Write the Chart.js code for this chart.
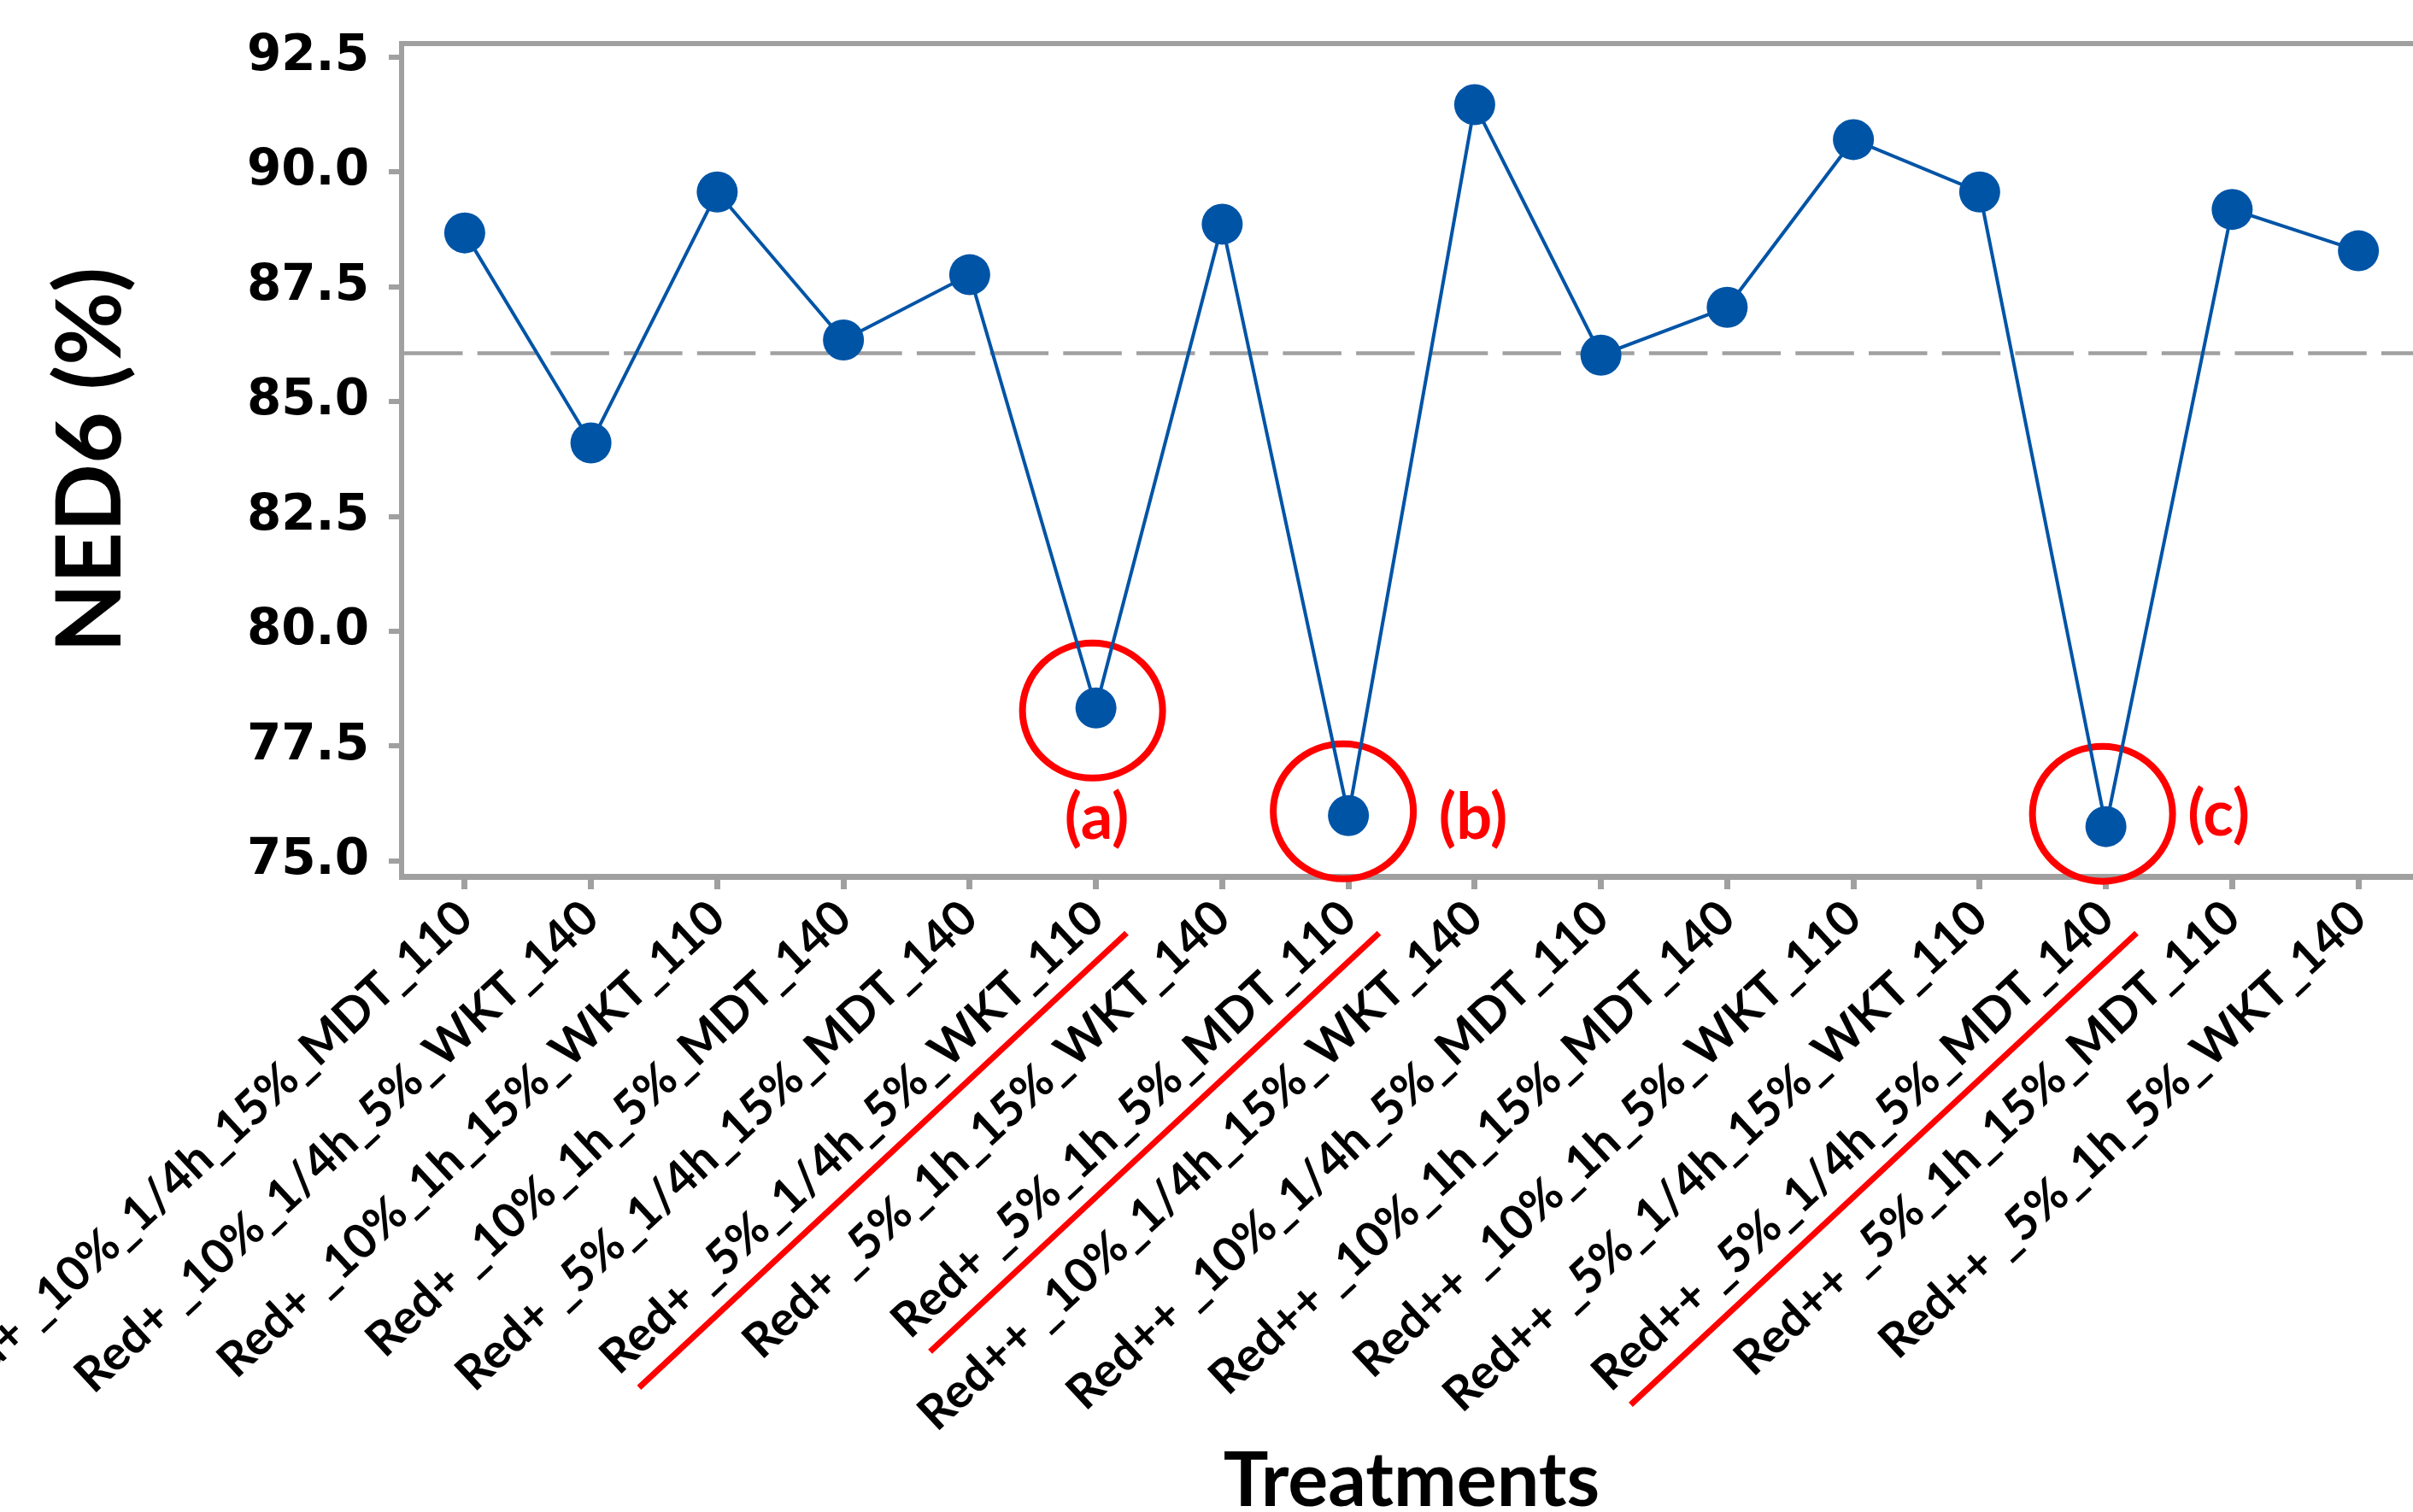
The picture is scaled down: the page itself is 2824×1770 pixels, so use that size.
<!DOCTYPE html>
<html>
<head>
<meta charset="utf-8">
<title>NED6 by treatment</title>
<script src="https://cdn.jsdelivr.net/npm/chart.js@4.4.0/dist/chart.umd.min.js"></script>
<style>
  html, body { margin: 0; padding: 0; background: #fff; overflow: hidden; }
  #ned6Chart { display: block; }
</style>
</head>
<body>
<canvas id="ned6Chart" width="2858" height="1770"></canvas>
<script>
// NED6 (%) per treatment, with the grand mean as a dashed reference line

const treatments = [
    'Red+ _10%_1/4h_15%_MDT_110',
    'Red+ _10%_1/4h_5%_WKT_140',
    'Red+ _10%_1h_15%_WKT_110',
    'Red+ _10%_1h_5%_MDT_140',
    'Red+ _5%_1/4h_15%_MDT_140',
    'Red+ _5%_1/4h_5%_WKT_110',
    'Red+ _5%_1h_15%_WKT_140',
    'Red+ _5%_1h_5%_MDT_110',
    'Red++ _10%_1/4h_15%_WKT_140',
    'Red++ _10%_1/4h_5%_MDT_110',
    'Red++ _10%_1h_15%_MDT_140',
    'Red++ _10%_1h_5%_WKT_110',
    'Red++ _5%_1/4h_15%_WKT_110',
    'Red++ _5%_1/4h_5%_MDT_140',
    'Red++ _5%_1h_15%_MDT_110',
    'Red++ _5%_1h_5%_WKT_140'
];
const ned6Values = [88.67, 84.10, 89.56, 86.34, 87.76, 78.33, 88.86, 75.99,
                    91.46, 86.01, 87.05, 90.70, 89.56, 75.75, 89.18, 88.28];
const yTickValues = [75, 77.5, 80, 82.5, 85, 87.5, 90, 92.5];
const meanNed6 = 86.05;

// worst treatments, circled and underlined
const highlightIndex = [5, 7, 13];
const highlightTags = ['(a)', '(b)', '(c)'];

const GRAY = '#a0a0a0';
const RED = '#ff0000';
const BLUE = '#0054a6';

// circle / tag placement relative to the point (px)
const tagLayout = [
    { cx: -4, cy: 3,   tx: 1,   ty: 129 },
    { cx: -6, cy: -5,  tx: 146, ty: 3 },
    { cx: -4, cy: -15, tx: 132, ty: -13 }
];

const markupPlugin = {
    id: 'markup',
    beforeDatasetsDraw(chart) {
        const ctx = chart.ctx;
        const area = chart.chartArea;
        const y = chart.scales.y.getPixelForValue(meanNed6);

        ctx.save();
        // mean line
        ctx.strokeStyle = GRAY;
        ctx.lineWidth = 4.5;
        ctx.setLineDash([68.5, 17.2]);
        ctx.beginPath();
        ctx.moveTo(area.left + 3, y);
        ctx.lineTo(area.right, y);
        ctx.stroke();
        ctx.setLineDash([]);

        // top and right frame lines
        ctx.lineWidth = 6;
        ctx.beginPath();
        ctx.moveTo(area.left, area.top);
        ctx.lineTo(area.right, area.top);
        ctx.lineTo(area.right, area.bottom);
        ctx.stroke();

        // red circles
        const pts = chart.getDatasetMeta(0).data;
        ctx.strokeStyle = RED;
        ctx.lineWidth = 8;
        highlightIndex.forEach((idx, k) => {
            const p = pts[idx];
            ctx.beginPath();
            ctx.ellipse(p.x + tagLayout[k].cx, p.y + tagLayout[k].cy, 82, 79, 0, 0, Math.PI * 2);
            ctx.stroke();
        });
        ctx.restore();
    },
    afterDraw(chart) {
        const ctx = chart.ctx;
        const pts = chart.getDatasetMeta(0).data;
        const xs = chart.scales.x;

        ctx.save();
        // (a) (b) (c)
        ctx.fillStyle = RED;
        ctx.font = 'bold 74px Lato';
        ctx.textAlign = 'center';
        ctx.textBaseline = 'middle';
        highlightIndex.forEach((idx, k) => {
            const p = pts[idx];
            ctx.fillText(highlightTags[k], p.x + tagLayout[k].tx, p.y + tagLayout[k].ty);
        });

        // underline the matching tick labels
        const font = Chart.helpers.toFont(xs.options.ticks.font);
        const rot = -xs.labelRotation * Math.PI / 180;
        const tl = xs.options.grid.tickLength + xs.options.ticks.padding;
        ctx.font = font.string;
        ctx.strokeStyle = RED;
        ctx.lineWidth = 7;
        highlightIndex.forEach(idx => {
            const x = xs.getPixelForTick(idx);
            const w = ctx.measureText(treatments[idx]).width;
            const off = font.lineHeight / 2 + 44;
            ctx.save();
            ctx.translate(x + font.lineHeight / 2 * Math.sin(rot), xs.top + tl);
            ctx.rotate(rot);
            ctx.beginPath();
            ctx.moveTo(8, off);
            ctx.lineTo(-w + 8, off);
            ctx.stroke();
            ctx.restore();
        });
        ctx.restore();
    }
};

const ctx = document.getElementById('ned6Chart').getContext('2d');

new Chart(ctx, {
    type: 'line',
    data: {
        labels: treatments,
        datasets: [{
            label: 'NED6 (%)',
            data: ned6Values,
            borderColor: BLUE,
            borderWidth: 4,
            backgroundColor: BLUE,
            pointBackgroundColor: BLUE,
            pointBorderWidth: 0,
            pointRadius: 24,
            tension: 0,
            fill: false
        }]
    },
    options: {
        responsive: false,
        maintainAspectRatio: false,
        devicePixelRatio: 1,
        animation: false,
        layout: {
            padding: { left: 0, right: 8, top: 51, bottom: 0 }
        },
        plugins: {
            legend: { display: false },
            tooltip: { enabled: false }
        },
        scales: {
            x: {
                type: 'category',
                offset: true,
                grid: {
                    display: true,
                    drawOnChartArea: false,
                    drawTicks: true,
                    tickLength: 15,
                    lineWidth: 7,
                    color: GRAY,
                    offset: false
                },
                border: { display: true, color: GRAY, width: 7 },
                ticks: {
                    autoSkip: false,
                    minRotation: 43,
                    maxRotation: 43,
                    padding: 0,
                    color: '#000',
                    font: { family: 'Lato', weight: 'bold', size: 56 }
                },
                title: {
                    display: true,
                    text: 'Treatments',
                    color: '#000',
                    padding: 0,
                    font: { family: 'Lato', weight: 'bold', size: 88, lineHeight: 0.8 }
                },
                afterFit(scale) {
                    scale.height = 744;
                    scale.paddingLeft = 0;
                    scale.paddingRight = 0;
                }
            },
            y: {
                min: 74.665,
                max: 92.79,
                grid: {
                    display: true,
                    drawOnChartArea: false,
                    drawTicks: true,
                    tickLength: 15,
                    lineWidth: 6,
                    color: GRAY
                },
                border: { display: true, color: GRAY, width: 6 },
                afterBuildTicks(scale) {
                    scale.ticks = yTickValues.map(v => ({ value: v }));
                },
                ticks: {
                    padding: 23,
                    color: '#000',
                    font: { family: 'DejaVu Sans', weight: 'bold', size: 58 },
                    callback: v => Number(v).toFixed(1)
                },
                title: {
                    display: true,
                    text: 'NED6 (%)',
                    color: '#000',
                    padding: { top: 55, bottom: 0 },
                    font: { family: 'Lato', weight: 'bold', size: 105, lineHeight: 1 }
                },
                afterFit(scale) {
                    scale.width = 470;
                    scale.paddingTop = 0;
                    scale.paddingBottom = 0;
                }
            }
        }
    },
    plugins: [markupPlugin]
});
</script>
</body>
</html>
